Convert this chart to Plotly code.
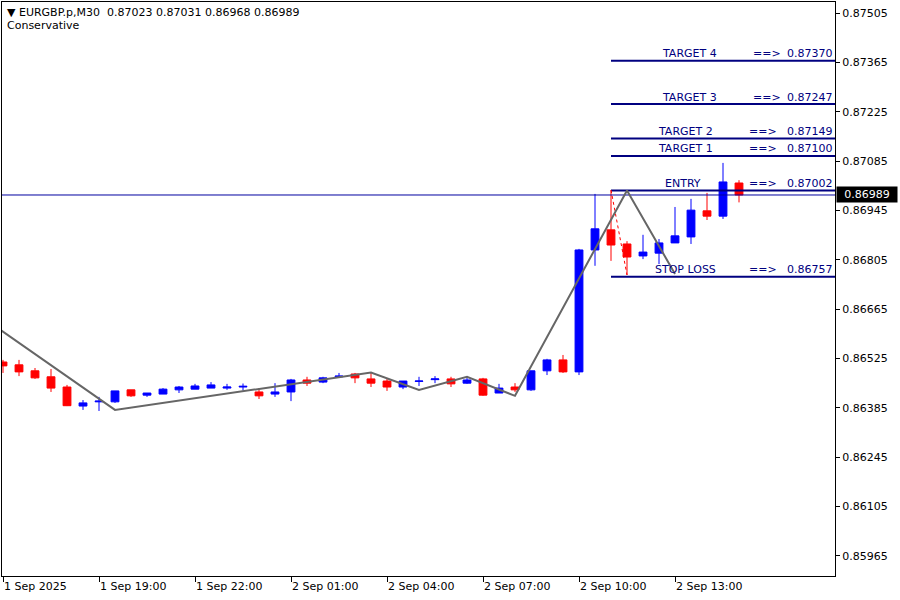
import plotly.graph_objects as go

# ---------------- data ----------------
times = [
    "1 Sep 16:00", "1 Sep 16:30", "1 Sep 17:00", "1 Sep 17:30", "1 Sep 18:00", "1 Sep 18:30",
    "1 Sep 19:00", "1 Sep 19:30", "1 Sep 20:00", "1 Sep 20:30", "1 Sep 21:00", "1 Sep 21:30",
    "1 Sep 22:00", "1 Sep 22:30", "1 Sep 23:00", "1 Sep 23:30", "2 Sep 00:00", "2 Sep 00:30",
    "2 Sep 01:00", "2 Sep 01:30", "2 Sep 02:00", "2 Sep 02:30", "2 Sep 03:00", "2 Sep 03:30",
    "2 Sep 04:00", "2 Sep 04:30", "2 Sep 05:00", "2 Sep 05:30", "2 Sep 06:00", "2 Sep 06:30",
    "2 Sep 07:00", "2 Sep 07:30", "2 Sep 08:00", "2 Sep 08:30", "2 Sep 09:00", "2 Sep 09:30",
    "2 Sep 10:00", "2 Sep 10:30", "2 Sep 11:00", "2 Sep 11:30", "2 Sep 12:00", "2 Sep 12:30",
    "2 Sep 13:00", "2 Sep 13:30", "2 Sep 14:00", "2 Sep 14:30", "2 Sep 15:00",
]
opens = [0.86515, 0.86507, 0.86490, 0.86473, 0.86444, 0.86390, 0.86402, 0.86402, 0.86436, 0.86421,
         0.86424, 0.86436, 0.86438, 0.86441, 0.86441, 0.86444, 0.86430, 0.86424, 0.86430, 0.86464,
         0.86458, 0.86473, 0.86481, 0.86467, 0.86461, 0.86444, 0.86460, 0.86465, 0.86467, 0.86455,
         0.86467, 0.86427, 0.86444, 0.86436, 0.86490, 0.86521, 0.86487, 0.86833, 0.86890, 0.86850,
         0.86816, 0.86824, 0.86853, 0.86870, 0.86944, 0.86929, 0.87023]
highs = [0.86521, 0.86521, 0.86498, 0.86495, 0.86450, 0.86407, 0.86416, 0.86433, 0.86436, 0.86427,
         0.86441, 0.86447, 0.86453, 0.86458, 0.86453, 0.86454, 0.86441, 0.86455, 0.86467, 0.86473,
         0.86473, 0.86484, 0.86484, 0.86484, 0.86467, 0.86461, 0.86473, 0.86475, 0.86473, 0.86473,
         0.86470, 0.86453, 0.86455, 0.86490, 0.86524, 0.86535, 0.86836, 0.86992, 0.87003, 0.86858,
         0.86876, 0.86864, 0.86955, 0.86978, 0.86995, 0.87080, 0.87031]
lows = [0.86484, 0.86475, 0.86467, 0.86430, 0.86390, 0.86379, 0.86376, 0.86399, 0.86416, 0.86416,
        0.86424, 0.86427, 0.86438, 0.86441, 0.86436, 0.86434, 0.86410, 0.86416, 0.86404, 0.86447,
        0.86455, 0.86470, 0.86455, 0.86444, 0.86433, 0.86438, 0.86447, 0.86455, 0.86444, 0.86453,
        0.86419, 0.86427, 0.86430, 0.86433, 0.86478, 0.86484, 0.86478, 0.86788, 0.86802, 0.86762,
        0.86807, 0.86793, 0.86853, 0.86850, 0.86918, 0.86921, 0.86968]
closes = [0.86504, 0.86487, 0.86470, 0.86441, 0.86391, 0.86399, 0.86404, 0.86433, 0.86419, 0.86427,
          0.86438, 0.86444, 0.86447, 0.86450, 0.86444, 0.86446, 0.86419, 0.86430, 0.86464, 0.86455,
          0.86470, 0.86475, 0.86470, 0.86455, 0.86444, 0.86461, 0.86461, 0.86467, 0.86453, 0.86464,
          0.86421, 0.86441, 0.86436, 0.86490, 0.86521, 0.86487, 0.86833, 0.86893, 0.86847, 0.86813,
          0.86827, 0.86853, 0.86873, 0.86946, 0.86929, 0.87026, 0.86989]

x_tick_idx = [0, 6, 12, 18, 24, 30, 36, 42]
x_tick_text = ["1 Sep 2025", "1 Sep 19:00", "1 Sep 22:00", "2 Sep 01:00",
               "2 Sep 04:00", "2 Sep 07:00", "2 Sep 10:00", "2 Sep 13:00"]
y_tick_vals = [0.85965, 0.86105, 0.86245, 0.86385, 0.86525, 0.86665, 0.86805,
               0.86945, 0.87085, 0.87225, 0.87365, 0.87505]

# zigzag indicator vertices (bar index, price)
zz_idx = [-1, 7, 23, 26, 29, 32, 39, 42]
zz_price = [0.86633, 0.86379, 0.86485, 0.86436, 0.86473, 0.86419, 0.87002, 0.86765]

# red dotted swing segment
swing_idx = [38, 39]
swing_price = [0.87003, 0.86762]

level_names = ["TARGET 4", "TARGET 3", "TARGET 2", "TARGET 1", "ENTRY", "STOP LOSS"]
level_prices = [0.87370, 0.87247, 0.87149, 0.87100, 0.87002, 0.86757]
level_start = 38

current_price = 0.86989
header_ohlc = [0.87023, 0.87031, 0.86968, 0.86989]

# ---------------- figure ----------------
NAVY = "#000080"
FONT = "DejaVu Sans"
n = len(times)
idx = list(range(n))
x_min, x_max = -0.0625, 52.0

fig = go.Figure()

# bid line
fig.add_trace(go.Scatter(x=[x_min - 1, x_max + 1], y=[current_price, current_price], mode="lines",
                         line=dict(color="#0000a0", width=1), hoverinfo="skip", showlegend=False))

# level lines
for p in level_prices:
    fig.add_trace(go.Scatter(x=[level_start, x_max + 1], y=[p, p], mode="lines",
                             line=dict(color=NAVY, width=2), hoverinfo="skip", showlegend=False))

fig.add_trace(go.Candlestick(
    x=idx, open=opens, high=highs, low=lows, close=closes,
    increasing=dict(line=dict(color="#0000ff", width=1), fillcolor="#0000ff"),
    decreasing=dict(line=dict(color="#ff0000", width=1), fillcolor="#ff0000"),
    whiskerwidth=0, hoverinfo="skip", showlegend=False,
))

fig.add_trace(go.Scatter(x=swing_idx, y=swing_price, mode="lines",
                         line=dict(color="#ff0000", width=1, dash="dot"),
                         hoverinfo="skip", showlegend=False))

fig.add_trace(go.Scatter(x=zz_idx, y=zz_price, mode="lines",
                         line=dict(color="#666666", width=2),
                         hoverinfo="skip", showlegend=False))

# level texts
name_x = [42.9, 42.9, 42.66, 42.66, 42.5, 42.66]
arrow_x = [47.78, 47.78, 47.5, 47.5, 47.5, 47.5]
annotations = []
for name, p, nx, ax in zip(level_names, level_prices, name_x, arrow_x):
    annotations.append(dict(x=nx, y=p, xref="x", yref="y", text=name, showarrow=False,
                            xanchor="center", yanchor="middle", yshift=7,
                            font=dict(family=FONT, size=11, color=NAVY)))
    annotations.append(dict(x=ax, y=p, xref="x", yref="y", text="==&gt;", showarrow=False,
                            xanchor="center", yanchor="middle", yshift=7,
                            font=dict(family=FONT, size=11, color=NAVY)))
    annotations.append(dict(x=1, y=p, xref="paper", yref="y", text=f"{p:.5f}", showarrow=False,
                            xanchor="right", yanchor="middle", yshift=7, xshift=0,
                            font=dict(family=FONT, size=11, color=NAVY)))

# current price box on axis
annotations.append(dict(x=1, y=current_price, xref="paper", yref="y", text=f"{current_price:.5f}",
                        showarrow=False, xanchor="left", yanchor="middle", xshift=1,
                        width=58, height=13, align="center", bgcolor="#000000", borderpad=1,
                        font=dict(family=FONT, size=11, color="#ffffff")))

# header
header = "▼&nbsp;EURGBP.p,M30&nbsp;&nbsp;" + "&nbsp;".join(f"{v:.5f}" for v in header_ohlc)
annotations.append(dict(x=0, y=1, xref="paper", yref="paper", text=header, showarrow=False,
                        xanchor="left", yanchor="top", xshift=3, yshift=-2,
                        font=dict(family=FONT, size=11, color="#000000")))
annotations.append(dict(x=0, y=1, xref="paper", yref="paper", text="Conservative", showarrow=False,
                        xanchor="left", yanchor="top", xshift=3, yshift=-15,
                        font=dict(family=FONT, size=11, color="#000000")))

fig.update_layout(
    width=900, height=600,
    margin=dict(l=2, r=65, t=2, b=24),
    paper_bgcolor="#ffffff", plot_bgcolor="#ffffff",
    font=dict(family=FONT, size=11, color="#000000"),
    showlegend=False,
    hovermode=False,
    annotations=annotations,
    xaxis=dict(
        range=[x_min, x_max], tickvals=x_tick_idx, ticktext=x_tick_text,
        ticks="outside", ticklen=5, tickcolor="#000000", ticklabelposition="outside right",
        showline=True, linecolor="#000000", linewidth=1, mirror=True,
        showgrid=False, zeroline=False, rangeslider=dict(visible=False),
        tickfont=dict(family=FONT, size=11, color="#000000"),
    ),
    yaxis=dict(
        side="right", range=[0.859077, 0.875367], tickvals=y_tick_vals,
        ticktext=[f"{v:.5f}" for v in y_tick_vals],
        ticks="outside", ticklen=4, tickcolor="#000000",
        showline=True, linecolor="#000000", linewidth=1, mirror=True,
        showgrid=False, zeroline=False,
        tickfont=dict(family=FONT, size=11, color="#000000"),
    ),
)

fig.write_html("out.html", config={"displayModeBar": False, "staticPlot": True},
               post_script="document.body.style.margin='0px';document.body.style.overflow='hidden';")
